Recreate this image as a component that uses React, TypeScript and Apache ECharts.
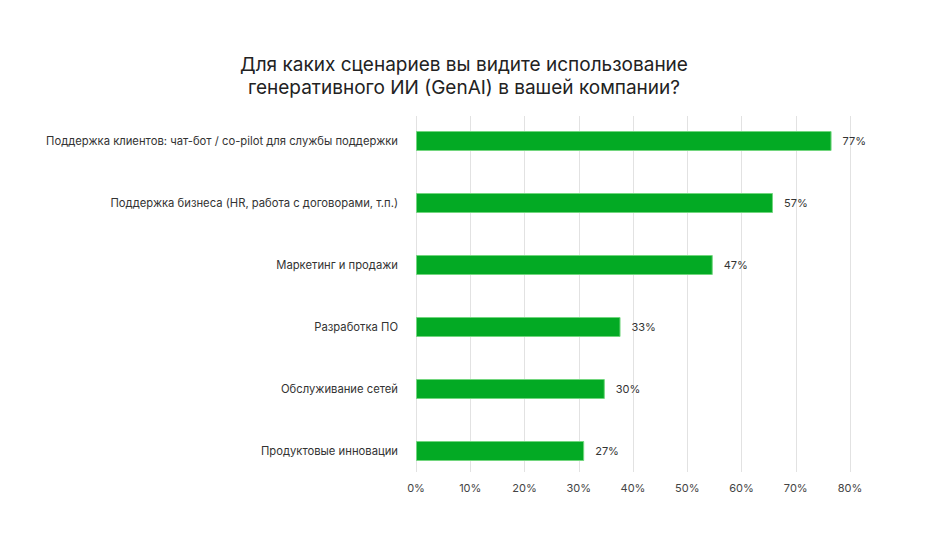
import React, { useEffect, useRef } from "react";
import * as echarts from "echarts";

const titleText = "Для каких сценариев вы видите использование\nгенеративного ИИ (GenAI) в вашей компании?";
const categories = [
  "Поддержка клиентов: чат-бот / co-pilot для службы поддержки",
  "Поддержка бизнеса (HR, работа с договорами, т.п.)",
  "Маркетинг и продажи",
  "Разработка ПО",
  "Обслуживание сетей",
  "Продуктовые инновации",
];
// bar lengths as drawn in the picture (% on the axis)
const barValues = [76.6, 65.8, 54.7, 37.7, 34.8, 31.0];
// printed value labels
const valueLabels = ["77%", "57%", "47%", "33%", "30%", "27%"];
const xTicks = [0, 10, 20, 30, 40, 50, 60, 70, 80];

const FONT = "Inter, Roboto, 'Noto Sans', sans-serif";

export default function App() {
  const ref = useRef<HTMLDivElement>(null);
  useEffect(() => {
    if (!ref.current) return;
    const chart = echarts.init(ref.current, null, { renderer: "svg" });
    chart.setOption({
      animation: false,
      backgroundColor: "#ffffff",
      title: {
        text: titleText,
        left: 451,
        top: 40,
        textAlign: "center",
        textStyle: {
          fontFamily: FONT,
          fontSize: 19,
          fontWeight: "normal",
          color: "#222222",
          lineHeight: 23,
        },
      },
      grid: [
        { left: 408, right: 91, top: 108, height: 356, containLabel: false },
        { left: 408, right: 91, top: 102, height: 372, containLabel: false },
      ],
      xAxis: [
        {
          gridIndex: 0,
          type: "value",
          min: 0,
          max: 80,
          interval: 10,
          axisLine: { show: false },
          axisTick: { show: false },
          splitLine: { show: true, lineStyle: { color: "#e2e2e2", width: 1 } },
          axisLabel: {
            margin: 10,
            fontFamily: FONT,
            fontSize: 11,
            color: "#444444",
            formatter: (v: number) => (xTicks.includes(v) ? v + "%" : ""),
          },
        },
        {
          gridIndex: 1,
          type: "value",
          min: 0,
          max: 80,
          show: false,
          splitLine: { show: false },
        },
      ],
      yAxis: [
        {
          gridIndex: 0,
          type: "category",
          data: categories,
          show: false,
        },
        {
          gridIndex: 1,
          type: "category",
          data: categories,
          inverse: true,
          axisLine: { show: false },
          axisTick: { show: false },
          splitLine: { show: false },
          axisLabel: {
            margin: 18,
            fontFamily: FONT,
            fontSize: 11.25,
            color: "#333333",
          },
        },
      ],
      series: [
        {
          type: "bar",
          xAxisIndex: 1,
          yAxisIndex: 1,
          data: barValues,
          barWidth: 20,
          itemStyle: {
            color: "#03aa24",
            borderColor: "#72d67e",
            borderWidth: 1,
          },
          label: {
            show: true,
            position: "right",
            distance: 11,
            fontFamily: FONT,
            fontSize: 11,
            color: "#333333",
            formatter: (p: any) => valueLabels[p.dataIndex],
          },
        },
      ],
    });
    return () => chart.dispose();
  }, []);
  return <div ref={ref} style={{ width: 933, height: 529 }} />;
}
